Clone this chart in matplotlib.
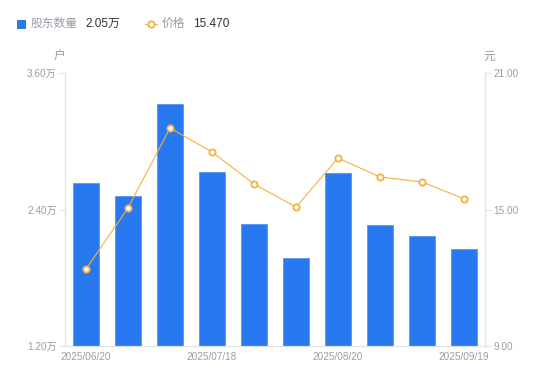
import numpy as np
import matplotlib.pyplot as plt
from matplotlib.patches import Rectangle
from matplotlib.lines import Line2D

plt.rcParams['font.family'] = ['Liberation Sans', 'Noto Sans CJK SC', 'DejaVu Sans']

dates = ['2025/06/20', '2025/06/30', '2025/07/10', '2025/07/18', '2025/07/31',
         '2025/08/08', '2025/08/20', '2025/08/29', '2025/09/10', '2025/09/19']
holders = [2.633, 2.519, 3.327, 2.730, 2.273, 1.974, 2.721, 2.264, 2.167, 2.053]  # 万户
price = [12.38, 15.07, 18.58, 17.53, 16.12, 15.11, 17.26, 16.43, 16.21, 15.47]
left_ticks = [1.2, 2.4, 3.6]
right_ticks = [9.0, 15.0, 21.0]
shown_idx = [0, 3, 6, 9]

blue = '#2878f0'
orange = '#f7b03c'
gray = '#9b9ba8'
axis_col = '#e3e3e6'

fig = plt.figure(figsize=(5.5, 3.81), dpi=100)
ax = fig.add_axes([65 / 550, 35 / 381, 420 / 550, 273 / 381])
ax2 = ax.twinx()

x = np.arange(len(dates))
ax.bar(x, holders, width=0.6, color=blue, edgecolor='#4a8ef5', linewidth=0.5, bottom=0,
       zorder=2)
ax.set_ylim(left_ticks[0], left_ticks[-1])
ax.set_xlim(-0.5, len(dates) - 0.5)
ax.set_yticks(left_ticks)
ax.set_yticklabels([f'{v:.2f}万' for v in left_ticks])
ax.set_xticks([x[i] for i in shown_idx])
ax.set_xticklabels([dates[i] for i in shown_idx])

ax2.plot(x, price, color=orange, lw=0.8, marker='o', ms=4.5, mfc='white',
         mec=orange, mew=1.3, zorder=3)
ax2.set_ylim(right_ticks[0], right_ticks[-1])
ax2.set_yticks(right_ticks)
ax2.set_yticklabels([f'{v:.2f}' for v in right_ticks])

for a in (ax, ax2):
    for s in ['top']:
        a.spines[s].set_visible(False)
    for s in ['left', 'right', 'bottom']:
        a.spines[s].set_color(axis_col)
        a.spines[s].set_linewidth(0.8)
    a.tick_params(axis='y', colors=gray, labelsize=7.2, length=4, width=0.8,
                  color=axis_col, pad=2)
    a.tick_params(axis='x', colors=gray, labelsize=7.2, length=0, pad=4)
    for lab in a.get_yticklabels() + a.get_xticklabels():
        lab.set_color(gray)
ax.set_zorder(ax2.get_zorder() - 1)
ax2.patch.set_visible(False)

fig.text(59 / 550, 1 - 57 / 381, '户', color=gray, fontsize=8.5, ha='center', va='center')
fig.text(489 / 550, 1 - 57 / 381, '元', color=gray, fontsize=8.5, ha='center', va='center')

# legend
ly = 1 - 24 / 381
fig.add_artist(Rectangle((17 / 550, 1 - 29 / 381), 9 / 550, 9 / 381,
                         transform=fig.transFigure, color=blue, lw=0))
fig.text(31 / 550, ly, '股东数量', color=gray, fontsize=8.5, va='center')
fig.text(85 / 550, ly, f'{holders[-1]:.2f}万', color='#333333', fontsize=8.5, va='center')
fig.add_artist(Line2D([145 / 550, 157 / 550], [ly, ly], transform=fig.transFigure,
                      color=orange, lw=0.8))
fig.add_artist(Line2D([151 / 550], [ly], transform=fig.transFigure, marker='o', ms=4.5,
                      mfc='white', mec=orange, mew=1.3))
fig.text(162 / 550, ly, '价格', color=gray, fontsize=8.5, va='center')
fig.text(193 / 550, ly, f'{price[-1]:.3f}', color='#333333', fontsize=8.5, va='center')

fig.savefig('out.png', dpi=100)
